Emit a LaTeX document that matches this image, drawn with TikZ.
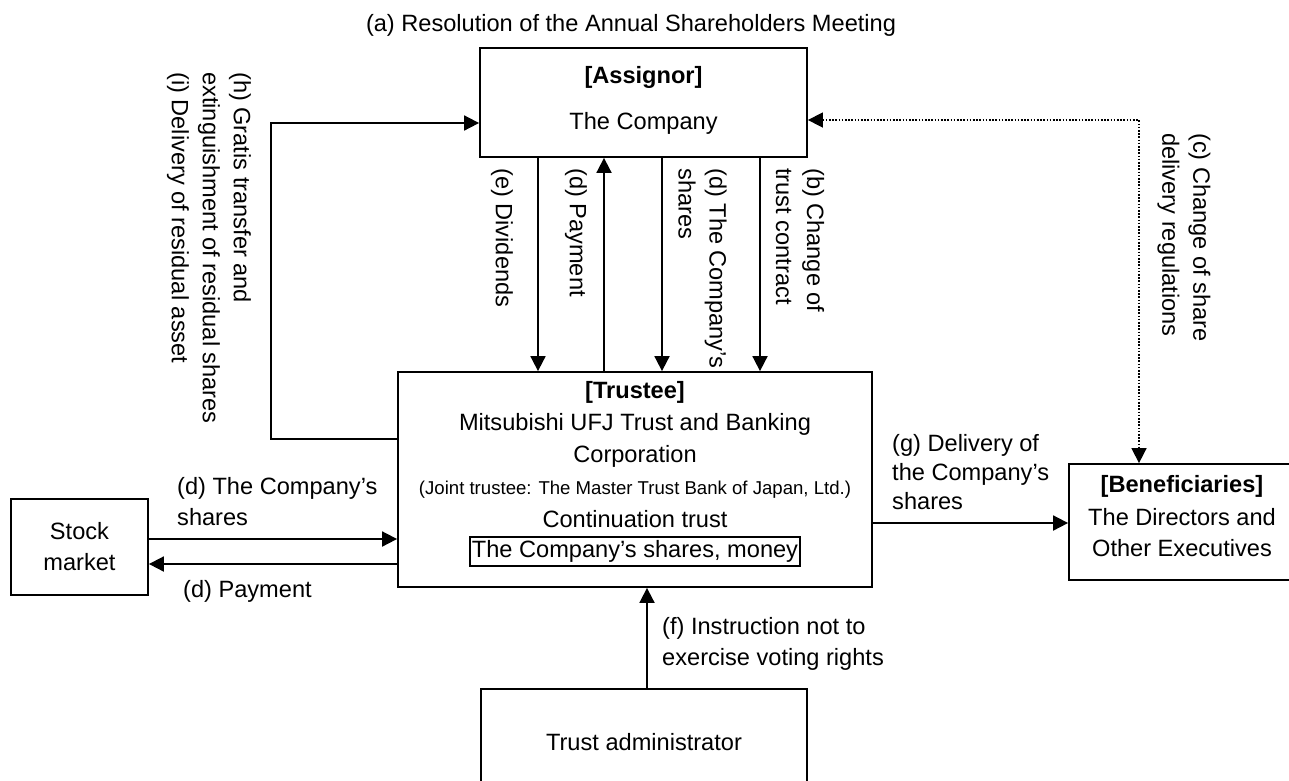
\documentclass[tikz,border=0pt]{standalone}
\usepackage{fontspec}
\setmainfont{Liberation Sans}
\usetikzlibrary{arrows.meta}
\begin{document}
\begin{tikzpicture}[x=1pt,y=-1pt,
  every node/.style={font=\fontsize{23.6}{31}\selectfont, inner sep=0pt},
  box/.style={draw, line width=1.8pt},
  arr/.style={line width=1.8pt, -{Triangle[length=15pt,width=15pt]}},
  dotline/.style={line width=1.6pt, dash pattern=on 1.6pt off 1.6pt,
     {Triangle[length=15pt,width=15pt]}-{Triangle[length=15pt,width=15pt]}},
  vlab/.style={rotate=-90, anchor=west, align=left},
  hlab/.style={anchor=west, align=left},
  smallfont/.style={font=\fontsize{18.6}{24}\selectfont}]
\useasboundingbox (0,0) rectangle (1289,780);
\clip (0,0) rectangle (1289,780);

% ---- boxes
\node[box, minimum width=327pt, minimum height=109pt] (asg) at (643.5,102.5) {};
\node (asgT) at (643.5,77) {\bfseries [Assignor]};
\node (asgC) at (643.5,123) {The Company};

\node[box, minimum width=474pt, minimum height=215pt] (tru) at (635,479.5) {};
\node (truT) at (635,392) {\bfseries [Trustee]};
\node (tru1) at (635,424) {Mitsubishi UFJ Trust and Banking};
\node (tru2) at (635,456) {Corporation};
\node[smallfont] (tru3) at (635,490) {(Joint trustee: The Master Trust Bank of Japan, Ltd.)};
\node (tru4) at (635,519) {Continuation trust};
\node[draw, line width=1.8pt, inner xsep=2pt, minimum height=29pt] (tru5) at (635,551.5) {The Company’s shares, money};

\node[box, minimum width=137pt, minimum height=96pt, align=center] (stk) at (79.5,547) {Stock\\market};

\node[box, minimum width=226pt, minimum height=116pt] (ben) at (1182,522) {};
\node (benT) at (1182,486) {\bfseries [Beneficiaries]};
\node (ben1) at (1182,517) {The Directors and};
\node (ben2) at (1182,548) {Other Executives};

\node[box, minimum width=326pt, minimum height=106pt] (adm) at (644,742) {Trust administrator};

% ---- helper coordinates
\coordinate (xe) at (538,0);
\coordinate (xdp) at (604,0);
\coordinate (xds) at (662,0);
\coordinate (xb) at (760,0);
\coordinate (xh) at (270.7,0);
\coordinate (xc) at (1139,0);
\coordinate (xf) at (647,0);
\coordinate (yh1) at (0,439);
\coordinate (yh2) at (0,123);
\coordinate (yc) at (0,120);
\coordinate (yss) at (0,539);
\coordinate (ysp) at (0,564);
\coordinate (yg) at (0,523);

% ---- connectors
\draw[arr] (tru.west |- yh1) -- (xh |- yh1) -- (xh |- yh2) -- (asg.west |- yh2);
\draw[arr] (xe |- asg.south) -- (xe |- tru.north);
\draw[arr] (xdp |- tru.north) -- (xdp |- asg.south);
\draw[arr] (xds |- asg.south) -- (xds |- tru.north);
\draw[arr] (xb |- asg.south) -- (xb |- tru.north);
\draw[dotline] (asg.east |- yc) -- (xc |- yc) -- (xc |- ben.north);
\draw[arr] (stk.east |- yss) -- (tru.west |- yss);
\draw[arr] (tru.west |- ysp) -- (stk.east |- ysp);
\draw[arr] (tru.east |- yg) -- (ben.west |- yg);
\draw[arr] (xf |- adm.north) -- (xf |- tru.south);

% ---- labels
\node (la) at (631,25) {(a) Resolution of the Annual Shareholders Meeting};
\node[vlab] (lh) at (209,72) {(h) Gratis transfer and\\extinguishment of residual shares\\(i) Delivery of residual asset};
\node[vlab] (le) at (502,168) {(e) Dividends};
\node[vlab] (ldp) at (576,168) {(d) Payment};
\node[vlab] (lds) at (702.5,168) {(d) The Company’s\\shares};
\node[vlab] (lb) at (800,168) {(b) Change of\\trust contract};
\node[vlab] (lc) at (1184,133) {(c) Change of share\\delivery regulations};
\node[hlab] (lss) at (177,502) {(d) The Company’s\\shares};
\node[hlab] (lsp) at (183,591) {(d) Payment};
\node[hlab, font=\fontsize{23.6}{29}\selectfont] (lg) at (892,472) {(g) Delivery of\\the Company’s\\shares};
\node[hlab] (lf) at (662,643.5) {(f) Instruction not to\\exercise voting rights};
\end{tikzpicture}
\end{document}
